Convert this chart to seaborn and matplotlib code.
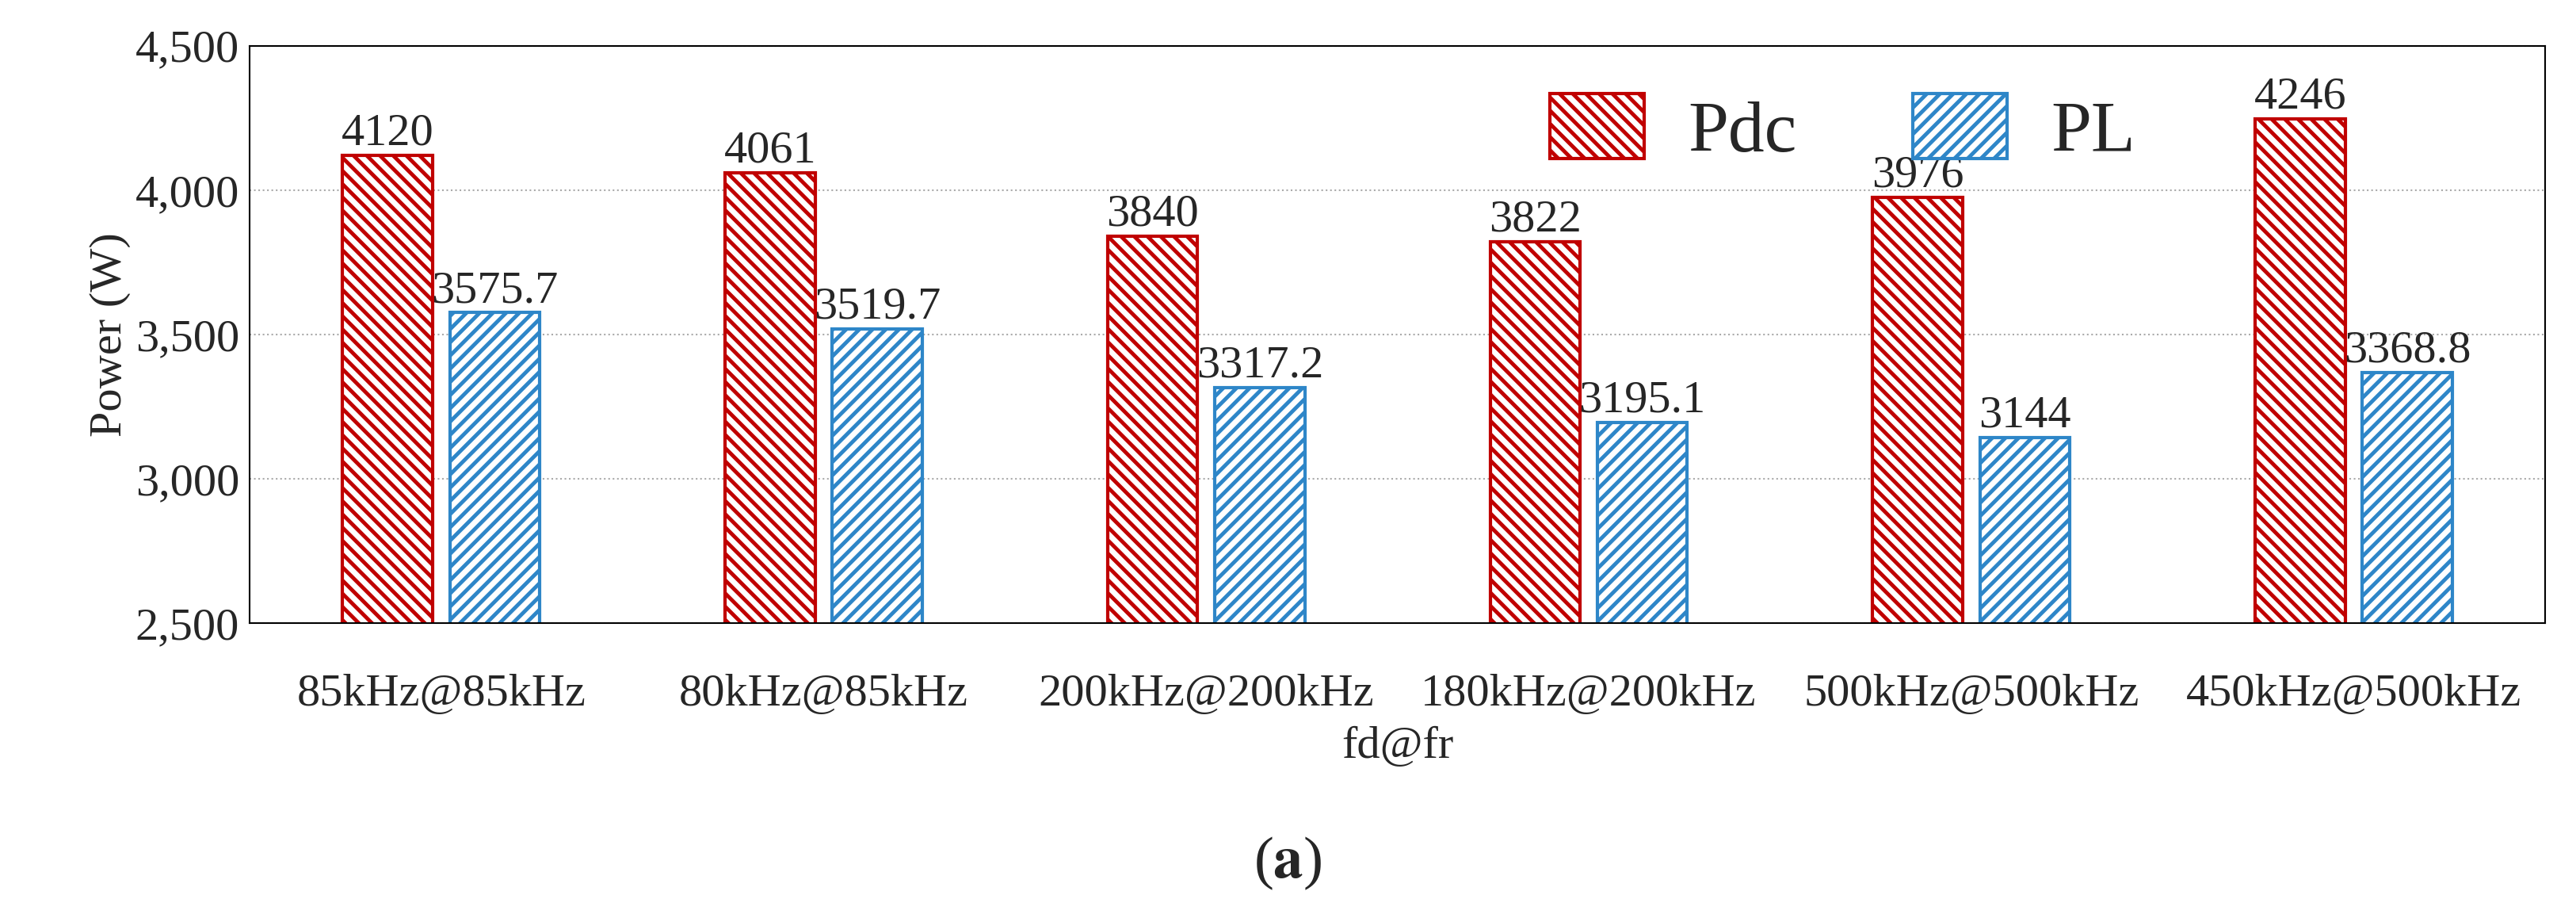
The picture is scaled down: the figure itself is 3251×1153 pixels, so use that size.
import matplotlib
matplotlib.use("Agg")
import matplotlib.pyplot as plt
import seaborn as sns
import pandas as pd

categories = ["85kHz@85kHz", "80kHz@85kHz", "200kHz@200kHz", "180kHz@200kHz", "500kHz@500kHz", "450kHz@500kHz"]
pdc = [4120, 4061, 3840, 3822, 3976, 4246]
pl = [3575.7, 3519.7, 3317.2, 3195.1, 3144, 3368.8]
pdc_labels = ["4120", "4061", "3840", "3822", "3976", "4246"]
pl_labels = ["3575.7", "3519.7", "3317.2", "3195.1", "3144", "3368.8"]

sns.set_theme(style="white")
plt.rcParams['font.family'] = ['Liberation Serif', 'DejaVu Serif']
plt.rcParams['mathtext.fontset'] = 'stix'
plt.rcParams['hatch.linewidth'] = 3.5

df = pd.DataFrame({"cat": categories * 2, "val": pdc + pl,
                   "series": ["Pdc"] * 6 + ["PL"] * 6})

fig = plt.figure(figsize=(32.51, 11.53), dpi=100)
ax = fig.add_axes([0.097, 0.318, 0.891, 0.632])
sns.barplot(data=df, x="cat", y="val", hue="series", ax=ax, width=0.56, gap=0.16,
            palette={"Pdc": "white", "PL": "white"}, legend=False)

colors = {"Pdc": "#C00000", "PL": "#2E86C8"}
hatches = {"Pdc": "\\\\", "PL": "//"}
FS = 42
for cont, name, labs in zip(ax.containers, ["Pdc", "PL"], [pdc_labels, pl_labels]):
    for p in cont:
        p.set_facecolor("white")
        p.set_edgecolor(colors[name])
        p.set_hatch(hatches[name])
        p.set_linewidth(3)
    ax.bar_label(cont, labels=labs, fontsize=FS, padding=1)

ax.set_ylim(2500, 4500)
ax.set_yticks(range(2500, 4501, 500))
ax.set_yticklabels([f"{v:,}" for v in range(2500, 4501, 500)], fontsize=FS)
ax.tick_params(axis="x", labelsize=FS, pad=40)
ax.set_xlabel("fd@fr", fontsize=FS, labelpad=10)
ax.set_ylabel("Power (W)", fontsize=FS)
ax.yaxis.grid(True, linestyle=":", color="#AAAAAA", linewidth=1.5)
ax.set_axisbelow(True)
for s in ax.spines.values():
    s.set_color("black")
    s.set_linewidth(1.5)

from matplotlib.patches import Patch
handles = [Patch(facecolor="white", edgecolor=colors[n], hatch=hatches[n], linewidth=3) for n in ["Pdc", "PL"]]
ax.legend(handles, ["Pdc", "PL"], loc="upper right", bbox_to_anchor=(0.85, 1.03), ncol=2, frameon=False,
          fontsize=66, handlelength=1.3, handleheight=1.0, columnspacing=1.6, handletextpad=0.6)

fig.text(0.5, 0.04, r"($\mathbf{a}$)", ha="center", fontsize=54)
fig.savefig("out.png", dpi=100)
